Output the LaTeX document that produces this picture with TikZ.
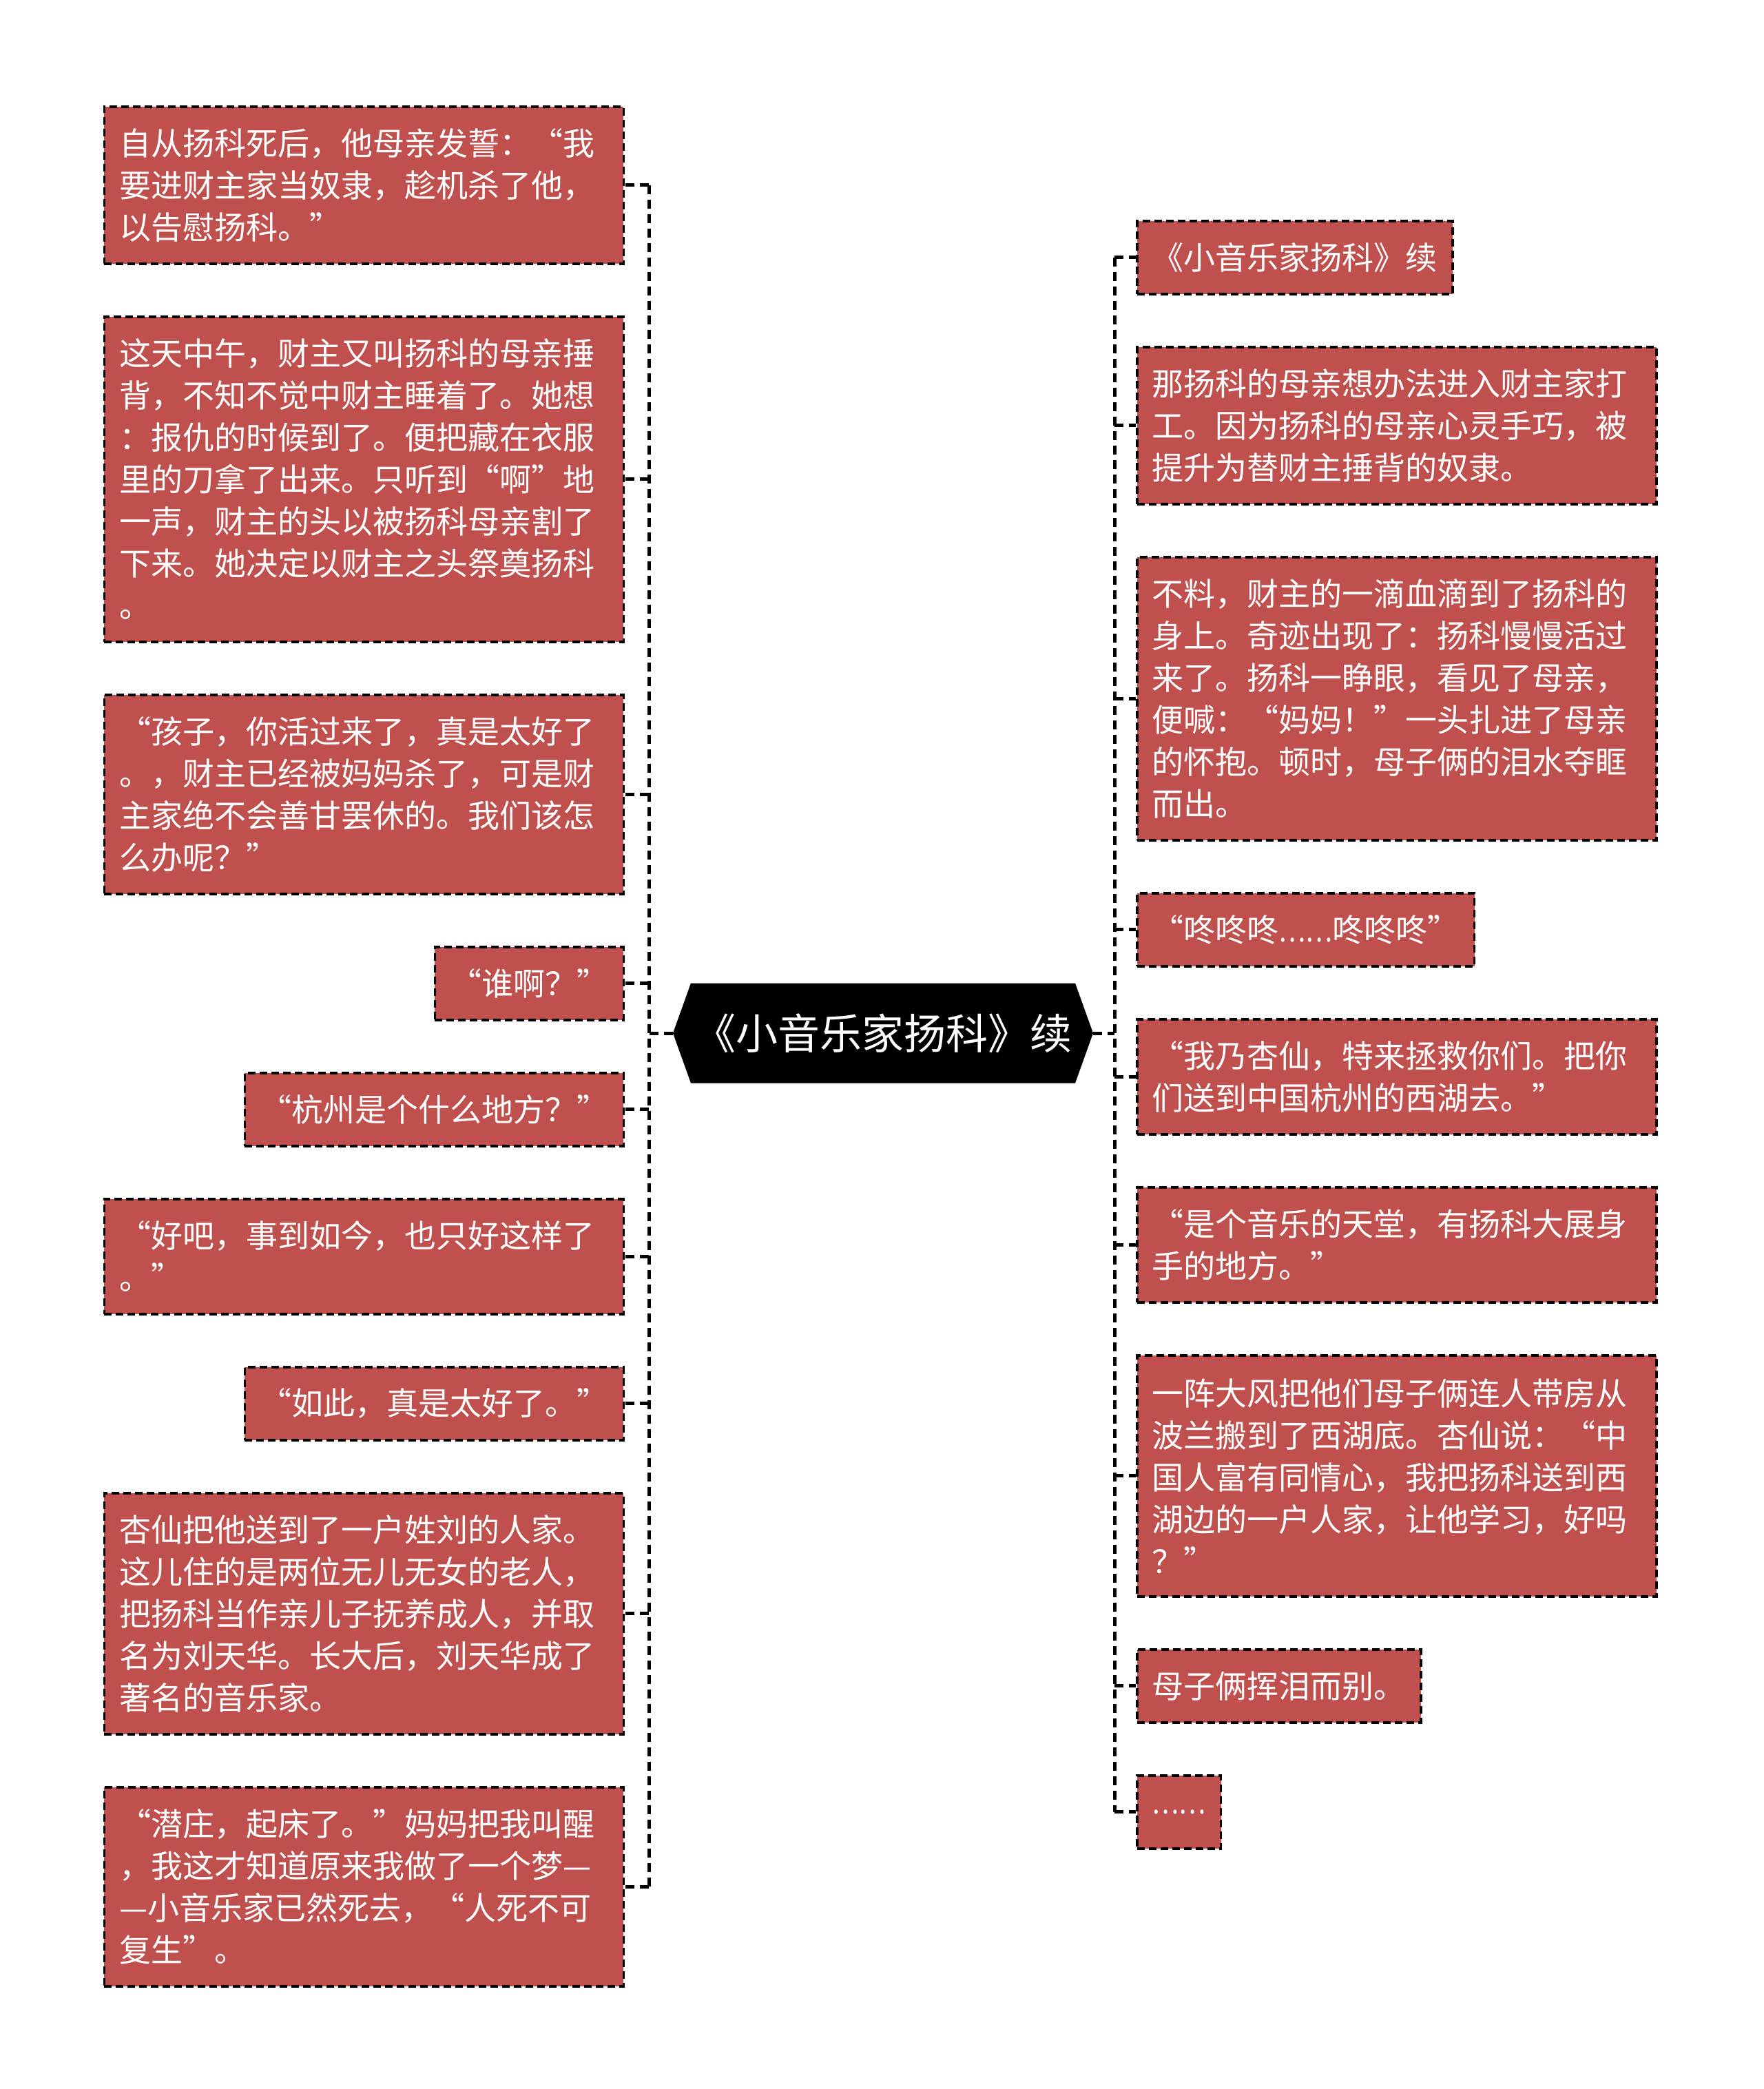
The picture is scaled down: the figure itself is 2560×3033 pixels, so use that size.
\documentclass[tikz,border=0pt]{standalone}
\usepackage{fontspec}
\usepackage{graphicx}
\setmainfont{Noto Sans CJK SC}
\definecolor{boxred}{HTML}{C0504D}
\newcommand{\narrowdots}{\scalebox{0.8}[1]{……}}
\tikzset{
  box/.style={draw=black, line width=3.5pt, dash pattern=on 11pt off 6pt, fill=boxred, text=white,
    font=\fontsize{46pt}{61pt}\selectfont, inner xsep=22pt, inner ysep=0pt, align=left},
  wide/.style={box, text width=710pt, minimum height=#1},
  short/.style={box, minimum height=106pt},
  conn/.style={draw=black, line width=5pt, dash pattern=on 13pt off 8pt},
  hub/.style={inner sep=0pt, minimum width=610pt, minimum height=145pt, text=white,
    font=\fontsize{61pt}{72pt}\selectfont}
}
\begin{document}
\begin{tikzpicture}[x=1pt,y=-1pt]
\useasboundingbox (0,0) rectangle (2560,3033);
% central node
\fill[black] (977,1500) -- (1003,1427.5) -- (1561,1427.5) -- (1587,1500) -- (1561,1572.5) -- (1003,1572.5) -- cycle;
\node[hub] (c) at (1282,1500) {《小音乐家扬科》续};
% left boxes
\node[wide=228pt, anchor=north east] (L1) at (907,153) {自从扬科死后，他母亲发誓：“我\\要进财主家当奴隶，趁机杀了他，\\以告慰扬科。”};
\node[wide=472pt, anchor=north east] (L2) at (907,458) {这天中午，财主又叫扬科的母亲捶\\背，不知不觉中财主睡着了。她想\\：报仇的时候到了。便把藏在衣服\\里的刀拿了出来。只听到“啊”地\\一声，财主的头以被扬科母亲割了\\下来。她决定以财主之头祭奠扬科\\。};
\node[wide=289pt, anchor=north east] (L3) at (907,1007) {“孩子，你活过来了，真是太好了\\。，财主已经被妈妈杀了，可是财\\主家绝不会善甘罢休的。我们该怎\\么办呢？”};
\node[short, anchor=north east] (L4) at (907,1373) {“谁啊？”};
\node[short, anchor=north east] (L5) at (907,1556) {“杭州是个什么地方？”};
\node[wide=167pt, anchor=north east] (L6) at (907,1739) {“好吧，事到如今，也只好这样了\\。”};
\node[short, anchor=north east] (L7) at (907,1983) {“如此，真是太好了。”};
\node[wide=350pt, anchor=north east] (L8) at (907,2166) {杏仙把他送到了一户姓刘的人家。\\这儿住的是两位无儿无女的老人，\\把扬科当作亲儿子抚养成人，并取\\名为刘天华。长大后，刘天华成了\\著名的音乐家。};
\node[wide=289pt, anchor=north east] (L9) at (907,2593) {“潜庄，起床了。”妈妈把我叫醒\\，我这才知道原来我做了一个梦—\\—小音乐家已然死去，“人死不可\\复生”。};
% right boxes
\node[short, anchor=north west] (R1) at (1649,319) {《小音乐家扬科》续};
\node[wide=228pt, anchor=north west] (R2) at (1649,502) {那扬科的母亲想办法进入财主家打\\工。因为扬科的母亲心灵手巧，被\\提升为替财主捶背的奴隶。};
\node[wide=411pt, anchor=north west] (R3) at (1649,807) {不料，财主的一滴血滴到了扬科的\\身上。奇迹出现了：扬科慢慢活过\\来了。扬科一睁眼，看见了母亲，\\便喊：“妈妈！”一头扎进了母亲\\的怀抱。顿时，母子俩的泪水夺眶\\而出。};
\node[short, anchor=north west] (R4) at (1649,1295) {“咚咚咚\narrowdots 咚咚咚”};
\node[wide=167pt, anchor=north west] (R5) at (1649,1478) {“我乃杏仙，特来拯救你们。把你\\们送到中国杭州的西湖去。”};
\node[wide=167pt, anchor=north west] (R6) at (1649,1722) {“是个音乐的天堂，有扬科大展身\\手的地方。”};
\node[wide=350pt, anchor=north west] (R7) at (1649,1966) {一阵大风把他们母子俩连人带房从\\波兰搬到了西湖底。杏仙说：“中\\国人富有同情心，我把扬科送到西\\湖边的一户人家，让他学习，好吗\\？”};
\node[short, anchor=north west] (R8) at (1649,2393) {母子俩挥泪而别。};
\node[short, anchor=north west] (R9) at (1649,2576) {\narrowdots};
% connectors
\coordinate (lj) at (942,1500);
\coordinate (rj) at (1618,1500);
\draw[conn] (c.west) -- (lj);
\draw[conn] (c.east) -- (rj);
\draw[conn] (L1.east -| lj) -- (L9.east -| lj);
\draw[conn] (R1.west -| rj) -- (R9.west -| rj);
\foreach \n in {L1,L2,L3,L4,L5,L6,L7,L8,L9} \draw[conn] (\n.east -| lj) -- (\n.east);
\foreach \n in {R1,R2,R3,R4,R5,R6,R7,R8,R9} \draw[conn] (\n.west -| rj) -- (\n.west);
\end{tikzpicture}
\end{document}
